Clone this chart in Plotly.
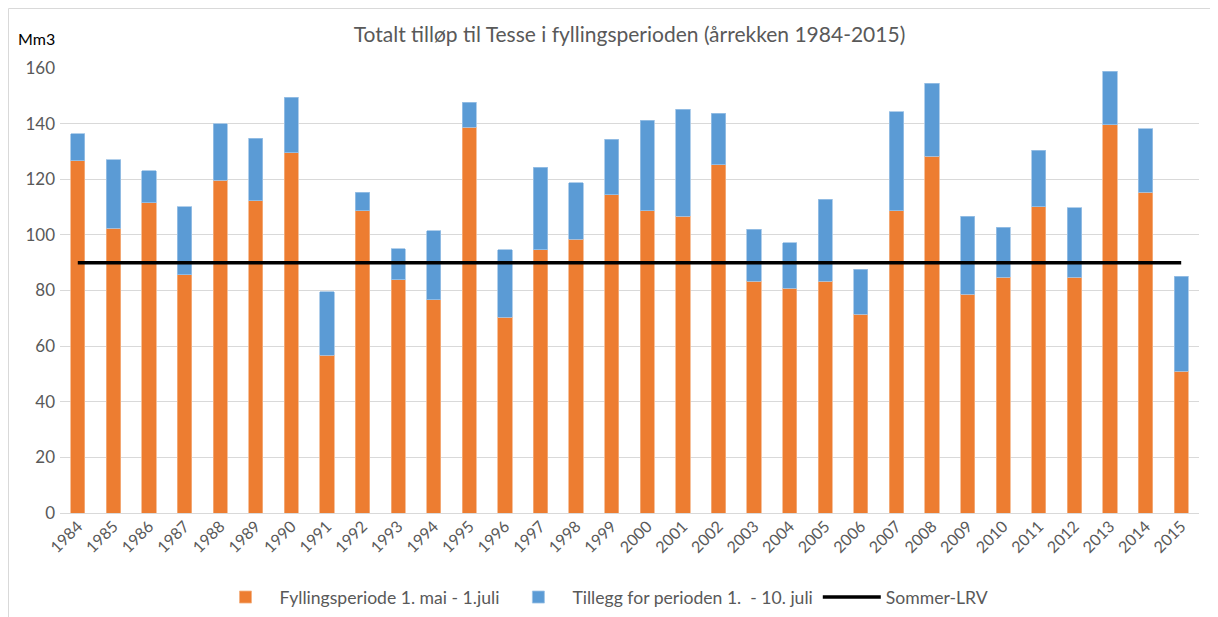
import plotly.graph_objects as go

years = [str(y) for y in range(1984, 2016)]
total = [136.4, 127.0, 123.1, 110.2, 140.0, 134.7, 149.4, 79.5, 115.4, 95.0,
         101.5, 147.7, 94.7, 124.4, 118.8, 134.3, 141.2, 145.1, 143.7, 102.0,
         97.2, 112.8, 87.7, 144.2, 154.5, 106.7, 102.8, 130.4, 109.7, 158.9,
         138.2, 85.2]
fylling = [126.6, 102.3, 111.5, 85.6, 119.6, 112.3, 129.6, 56.8, 108.6, 83.9,
           76.6, 138.7, 70.4, 94.7, 98.5, 114.5, 108.6, 106.7, 125.3, 83.4,
           80.9, 83.4, 71.4, 108.6, 128.3, 78.7, 84.8, 110.2, 84.8, 139.6,
           115.3, 51.0]
tillegg = [round(t - f, 1) for t, f in zip(total, fylling)]
lrv = [90] * len(years)

FONT = "Lato"
GRAY = "#595959"

fig = go.Figure()
fig.add_trace(go.Bar(x=years, y=fylling, name="Fyllingsperiode 1. mai - 1.juli",
                     marker=dict(color="#ED7D31", line=dict(color="#F4B183", width=0.8))))
fig.add_trace(go.Bar(x=years, y=tillegg, name="Tillegg for perioden 1.  - 10. juli",
                     marker=dict(color="#5B9BD5", line=dict(color="#9DC3E6", width=0.8))))
fig.add_trace(go.Scatter(x=years, y=lrv, name="Sommer-LRV", mode="lines",
                         line=dict(color="black", width=3.5)))

fig.update_layout(
    barmode="stack",
    bargap=0.6,
    width=1210, height=609,
    paper_bgcolor="white", plot_bgcolor="white",
    margin=dict(l=52, r=19, t=60, b=104, autoexpand=False),
    font=dict(family=FONT, color=GRAY, size=16),
    title=dict(text="Totalt tilløp til Tesse i fyllingsperioden (årrekken 1984-2015)",
               x=0.5, xref="paper", xanchor="center", y=1 - 27 / 609, yref="container",
               yanchor="middle",
               font=dict(family=FONT, size=21, color=GRAY)),
    xaxis=dict(type="category", tickangle=-45, showgrid=False, showline=False,
               automargin=False, ticks="", tickfont=dict(size=16, color=GRAY)),
    yaxis=dict(range=[0, 160], dtick=20, showgrid=True, gridcolor="#D9D9D9",
               gridwidth=1, zeroline=True, zerolinecolor="#D9D9D9", zerolinewidth=1,
               automargin=False, showline=False, ticks="", ticklabelstandoff=4,
               tickfont=dict(size=17, color=GRAY)),
    legend=dict(orientation="h", x=0.4763, xanchor="center", y=-0.189, yanchor="middle",
                font=dict(size=17.6, color=GRAY), traceorder="normal",
                itemwidth=58),
    showlegend=True,
)

fig.add_annotation(text="Mm3", xref="paper", yref="paper", x=-0.0202, y=1.067,
                   xanchor="center", yanchor="middle", showarrow=False,
                   font=dict(family=FONT, size=16, color="black"))

fig.add_shape(type="rect", xref="paper", yref="paper",
              x0=-0.0452, x1=1.01466, y0=-0.3, y1=1.1337,
              line=dict(color="#D9D9D9", width=1), fillcolor="rgba(0,0,0,0)")

fig.write_html("out.html")
